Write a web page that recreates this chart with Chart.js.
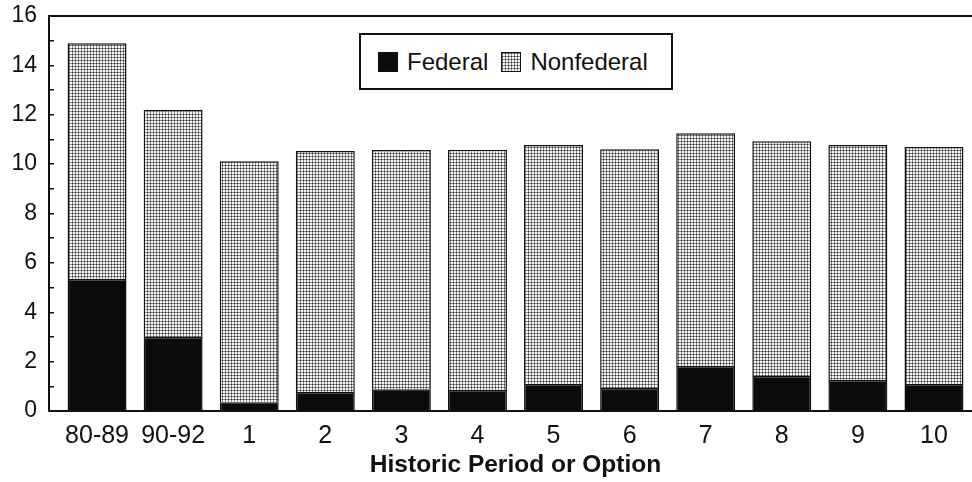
<!DOCTYPE html>
<html>
<head>
<meta charset="utf-8">
<script src="https://cdn.jsdelivr.net/npm/chart.js@4.4.1/dist/chart.umd.min.js"></script>
<style>
  body { margin: 0; background: #fff; }
  #wrap { position: relative; width: 972px; height: 482px; }
  #legendBox {
    position: absolute; left: 359px; top: 33px; width: 314px; height: 57px;
    border: 2px solid #111; background: #fff; box-sizing: border-box;
    display: flex; align-items: center; padding-left: 17px;
    font-family: "Liberation Sans", Arial, sans-serif; font-size: 24px; color: #111;
  }
  #legendBox .sw { width: 20px; height: 20px; margin-right: 9px; box-sizing: border-box; border: 1px solid #111; }
  #legendBox .item { display: flex; align-items: center; margin-right: 13px; }
</style>
</head>
<body>
<div id="wrap">
  <canvas id="chart" width="972" height="482"></canvas>
  <div id="legendBox"></div>
</div>
<script>
// categories and values
const categories = ["80-89", "90-92", "1", "2", "3", "4", "5", "6", "7", "8", "9", "10"];
const federal    = [5.35, 3.0, 0.35, 0.77, 0.88, 0.85, 1.09, 0.93, 1.82, 1.42, 1.26, 1.09];
const nonfederal = [9.55, 9.2, 9.77, 9.76, 9.69, 9.73, 9.68, 9.67, 9.43, 9.51, 9.51, 9.6];
const yTicks = [0, 2, 4, 6, 8, 10, 12, 14, 16];

const FONT = "'Liberation Sans', Arial, sans-serif";

// screen-tone fill: fine grid of grey lines with dark crossings
function makeDotPattern() {
  const c = document.createElement("canvas");
  c.width = 3; c.height = 3;
  const g = c.getContext("2d");
  g.fillStyle = "#f4f4f4";
  g.fillRect(0, 0, 3, 3);
  g.fillStyle = "#8a8a8a";
  g.fillRect(0, 0, 3, 1);
  g.fillRect(0, 0, 1, 3);
  g.fillStyle = "#333";
  g.fillRect(0, 0, 1, 1);
  return c;
}
const dotTile = makeDotPattern();
const ctx = document.getElementById("chart").getContext("2d");
const dotPattern = ctx.createPattern(dotTile, "repeat");

// bars start a little right of the y axis in the original
const shiftCategories = {
  id: "shiftCategories",
  afterLayout(chart) {
    const x = chart.scales.x;
    x.left = chart.chartArea.left + 10;
    x.configure();
    x._labelItems = null;
  },
};

// top frame line and bottom axis line across the whole plot
const frameLines = {
  id: "frameLines",
  afterDraw(chart) {
    const { ctx, chartArea } = chart;
    ctx.save();
    ctx.strokeStyle = "#111";
    ctx.lineWidth = 2;
    ctx.beginPath();
    ctx.moveTo(chartArea.left, chartArea.top);
    ctx.lineTo(chartArea.right, chartArea.top);
    ctx.moveTo(chartArea.left, chartArea.bottom);
    ctx.lineTo(chartArea.right, chartArea.bottom);
    ctx.stroke();
    ctx.restore();
  },
};

const chart = new Chart(ctx, {
  type: "bar",
  data: {
    labels: categories,
    datasets: [
      {
        label: "Federal",
        data: federal,
        backgroundColor: "#0b0b0b",
        borderColor: "#111",
        borderWidth: 1.5,
      },
      {
        label: "Nonfederal",
        data: nonfederal,
        backgroundColor: dotPattern,
        borderColor: "#111",
        borderWidth: 1.5,
      },
    ],
  },
  options: {
    responsive: false,
    animation: false,
    layout: { padding: { top: 16, right: 0, left: 0, bottom: 0 } },
    datasets: { bar: { categoryPercentage: 1, barPercentage: 0.775 } },
    plugins: {
      legend: { display: false },
      tooltip: { enabled: false },
    },
    scales: {
      x: {
        stacked: true,
        grid: { display: false },
        border: { display: false },
        ticks: { color: "#111", font: { family: FONT, size: 25 }, padding: 2, maxRotation: 0 },
        title: {
          display: true,
          text: "Historic Period or Option",
          color: "#111",
          font: { family: FONT, size: 24.5, weight: "bold" },
          padding: { top: 0, bottom: 2 },
        },
        afterFit: (s) => { s.height = 71; },
      },
      y: {
        stacked: true,
        min: 0,
        max: 16,
        grid: { display: true, drawOnChartArea: false, color: "#111", lineWidth: 1.5, tickLength: -5 },
        border: { display: true, color: "#111", width: 2 },
        ticks: {
          stepSize: 1,
          autoSkip: false,
          color: "#111",
          font: { family: FONT, size: 23 },
          padding: 17,
          callback: (v) => (yTicks.includes(v) ? v : ""),
        },
        afterFit: (s) => {
          s.width = 49;
          s.paddingTop = 0;
          s.paddingBottom = 0;
        },
      },
    },
  },
  plugins: [shiftCategories, frameLines],
});

// legend box drawn in html, built from the datasets
const legendBox = document.getElementById("legendBox");
chart.data.datasets.forEach((ds) => {
  const item = document.createElement("div");
  item.className = "item";
  const sw = document.createElement("span");
  sw.className = "sw";
  if (ds.label === "Federal") sw.style.background = "#0b0b0b";
  else sw.style.backgroundImage = `url(${dotTile.toDataURL()})`;
  const txt = document.createElement("span");
  txt.textContent = ds.label;
  item.appendChild(sw);
  item.appendChild(txt);
  legendBox.appendChild(item);
});
</script>
</body>
</html>
